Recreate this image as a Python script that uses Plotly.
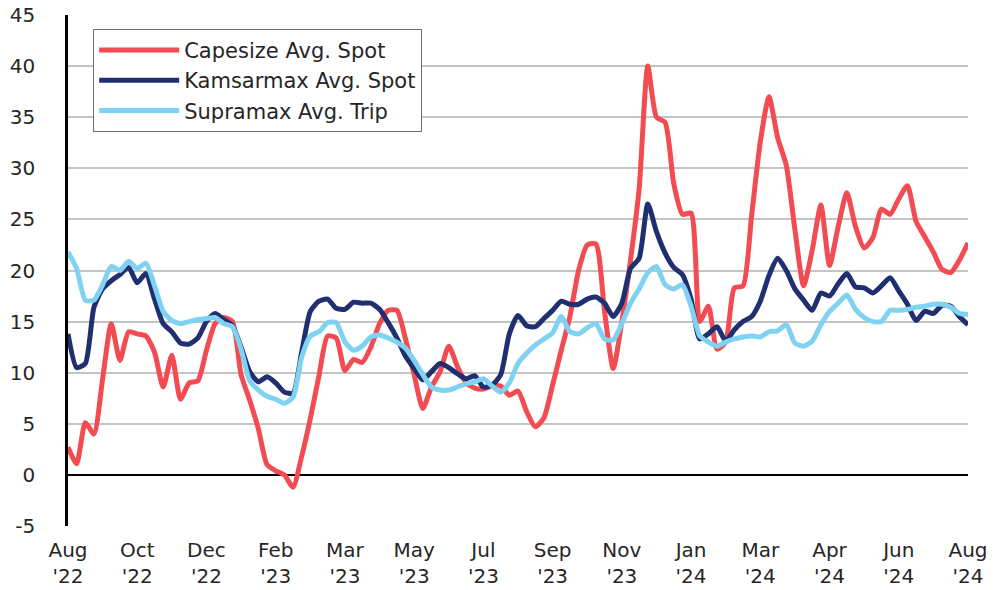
import pandas as pd
import plotly.graph_objects as go

# Weekly observations, Aug 2022 - Aug 2024 (USD '000/day)
dates = pd.date_range("2022-08-05", periods=105, freq="7D")

capesize = [
    2.7, 1.1, 5.1, 4.0, 9.4, 14.8, 11.2, 14.0, 13.8, 13.6,
    12.0, 8.6, 11.7, 7.4, 9.0, 9.2, 12.2, 14.8, 15.4, 15.0,
    9.8, 7.3, 4.5, 1.0, 0.4, 0.0, -1.2, 1.8, 5.5, 9.7,
    13.6, 13.4, 10.2, 11.3, 11.0, 12.5, 14.8, 16.1, 16.1, 13.3,
    9.8, 6.5, 8.6, 10.1, 12.6, 10.6, 9.0, 8.5, 8.4, 8.7,
    8.7, 7.8, 8.2, 6.2, 4.7, 5.6, 8.8, 12.2, 15.5, 20.0,
    22.5, 22.6, 16.0, 10.4, 15.0, 21.0, 28.0, 40.0, 35.0, 34.5,
    28.5, 25.5, 25.6, 15.0, 16.5, 12.3, 13.0, 18.3, 18.5, 25.4,
    32.6, 37.0, 33.0, 30.3, 24.0, 18.5, 22.0, 26.4, 20.5, 24.3,
    27.6, 24.3, 22.2, 23.2, 26.0, 25.5, 27.0, 28.3, 24.8, 23.3,
    21.8, 20.1, 19.8, 21.0, 22.7,
]

kamsarmax = [
    13.8, 10.5, 10.9, 16.4, 18.2, 19.0, 19.6, 20.3, 18.8, 19.7,
    17.2, 14.8, 14.0, 12.9, 12.8, 13.4, 15.0, 15.8, 15.2, 14.6,
    12.5, 10.1, 9.1, 9.6, 9.0, 8.1, 8.0, 12.0, 16.0, 17.0,
    17.2, 16.3, 16.2, 16.9, 16.8, 16.8, 16.2, 14.9, 13.4, 11.6,
    10.4, 9.3, 10.1, 10.9, 10.5, 9.9, 9.4, 9.7, 8.6, 8.8,
    9.8, 13.8, 15.6, 14.6, 14.5, 15.3, 16.1, 17.0, 16.7, 16.7,
    17.2, 17.4, 16.8, 15.5, 16.8, 20.2, 21.2, 26.5, 23.8, 21.7,
    20.3, 19.6, 17.2, 13.3, 13.8, 14.5, 13.1, 14.2, 15.0, 15.5,
    17.0, 19.5, 21.2, 20.0, 18.2, 17.1, 16.1, 17.8, 17.5, 18.7,
    19.7, 18.4, 18.3, 17.8, 18.5, 19.3, 18.0, 16.7, 15.1, 16.0,
    15.8, 16.6, 16.5, 15.5, 14.7,
]

supramax = [
    21.8, 20.2, 17.1, 17.1, 18.6, 20.4, 20.0, 20.9, 20.2, 20.7,
    18.5, 16.0, 15.1, 14.8, 15.0, 15.2, 15.3, 15.4, 14.8, 14.5,
    12.3, 9.2, 8.3, 7.7, 7.4, 7.0, 7.6, 11.5, 13.6, 14.0,
    14.9, 14.9, 13.0, 12.2, 12.6, 13.5, 13.7, 13.4, 13.0, 12.4,
    11.2, 9.8, 8.6, 8.3, 8.3, 8.6, 8.9, 9.1, 9.4, 8.7,
    8.1, 9.0, 10.9, 11.9, 12.7, 13.3, 13.9, 15.5, 14.0, 13.8,
    14.4, 14.8, 13.3, 13.2, 14.8, 16.8, 18.2, 19.8, 20.4, 18.6,
    18.2, 18.6, 16.5, 13.6, 13.0, 12.6, 13.0, 13.3, 13.5, 13.6,
    13.5, 14.0, 14.1, 14.7, 12.9, 12.6, 13.1, 14.7, 16.0, 16.8,
    17.6, 16.2, 15.4, 15.0, 15.0, 16.1, 16.1, 16.2, 16.4, 16.5,
    16.7, 16.7, 16.4, 15.8, 15.7,
]

series_names = ["Capesize Avg. Spot", "Kamsarmax Avg. Spot", "Supramax Avg. Trip"]
series_colors = ["#F24B52", "#1F2F6F", "#7FD2F2"]

tick_labels = ["Aug<br>'22", "Oct<br>'22", "Dec<br>'22", "Feb<br>'23", "Mar<br>'23",
               "May<br>'23", "Jul<br>'23", "Sep<br>'23", "Nov<br>'23", "Jan<br>'24",
               "Mar<br>'24", "Apr<br>'24", "Jun<br>'24", "Aug<br>'24"]
tick_dates = list(dates[::8])

y_ticks = [-5, 0, 5, 10, 15, 20, 25, 30, 35, 40, 45]
y_tick_text = ["-5", "0", "5", "10", "15", "20", "25", "30", "35", "40", "45"]

FONT = "DejaVu Sans"
TXT = "#262626"

fig = go.Figure()
for name, vals, col in zip(series_names, [capesize, kamsarmax, supramax], series_colors):
    fig.add_trace(go.Scatter(
        x=dates, y=vals, name=name, mode="lines",
        line=dict(color=col, width=5, shape="spline", smoothing=0.6),
        hoverinfo="x+y+name",
    ))

fig.update_layout(
    width=1003, height=590,
    margin=dict(l=68, r=35, t=15, b=64),
    paper_bgcolor="white", plot_bgcolor="white",
    font=dict(family=FONT, size=20, color=TXT),
    legend=dict(
        x=0.028, y=0.973, xanchor="left", yanchor="top",
        bordercolor="#6e6e6e", borderwidth=1, bgcolor="white",
        font=dict(family=FONT, size=21, color=TXT),
        itemwidth=80, tracegroupgap=0,
    ),
)
fig.update_xaxes(
    range=[dates[0], dates[-1]], automargin=False,
    tickmode="array", tickvals=tick_dates, ticktext=tick_labels,
    showgrid=False, zeroline=False, showline=False, ticks="",
    ticklabelstandoff=10, ticklabeloverflow="allow",
    tickfont=dict(family=FONT, size=20, color=TXT),
)
fig.update_yaxes(
    range=[-5, 45], automargin=False,
    tickmode="array", tickvals=y_ticks, ticktext=y_tick_text,
    showgrid=True, gridcolor="#C4C4C4", gridwidth=1.5,
    zeroline=True, zerolinecolor="#000000", zerolinewidth=1.5,
    showline=True, linecolor="#000000", linewidth=2.5,
    ticks="", ticklabelstandoff=26, ticklabeloverflow="allow",
    tickfont=dict(family=FONT, size=20, color=TXT),
)

# remove the default 8px page margin so the 1003x590 figure fills the window exactly
fig.write_html("out.html", config={"displayModeBar": False},
               post_script="document.body.style.margin='0';")
